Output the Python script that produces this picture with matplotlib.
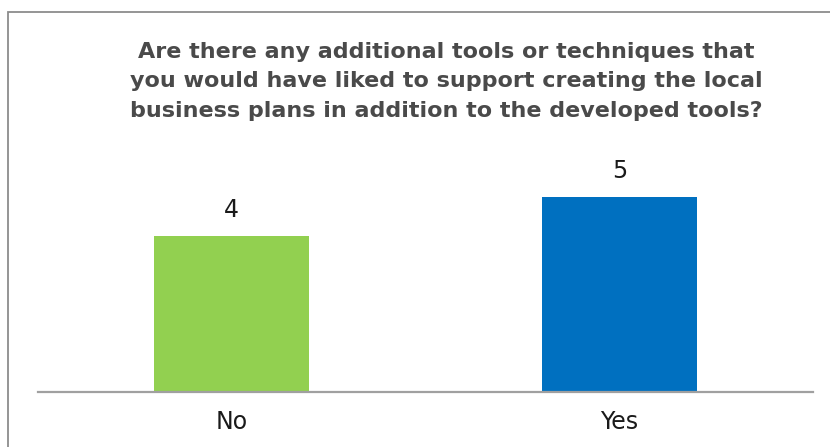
import matplotlib
matplotlib.use("Agg")
import matplotlib.pyplot as plt
from matplotlib.patches import Rectangle

categories = ["No", "Yes"]
values = [4, 5]
colors = ["#92D050", "#0070C0"]
title = ("Are there any additional tools or techniques that\n"
         "you would have liked to support creating the local\n"
         "business plans in addition to the developed tools?")

W, H = 830, 447
fig = plt.figure(figsize=(W / 100, H / 100), dpi=100)

# chart border (right and bottom edges cut off in the reference)
fig.patches.append(Rectangle((7.5 / W, -0.1), 1.2, 1 - 12.5 / H + 0.1,
                             transform=fig.transFigure, fill=False,
                             edgecolor="#8c8c8c", linewidth=1.3))

axis_y = 392
top_px = 150
ax = fig.add_axes([38 / W, (H - axis_y) / H, (813 - 38) / W, (axis_y - top_px) / H])
x = range(len(categories))
bars = ax.bar(x, values, width=0.40, color=colors)
ax.set_xlim(-0.5, 1.5)
ax.set_ylim(0, (axis_y - top_px) / 39.1)
for b, v in zip(bars, values):
    ax.annotate(str(v), (b.get_x() + b.get_width() / 2, v), xytext=(0, 10),
                textcoords="offset points", ha="center", va="bottom",
                fontsize=17, color="#1a1a1a")
ax.set_xticks(list(x))
ax.set_xticklabels(categories, fontsize=17, color="#1a1a1a")
ax.tick_params(axis="x", length=0, pad=13)
ax.set_yticks([])
for s in ["left", "right", "top"]:
    ax.spines[s].set_visible(False)
ax.spines["bottom"].set_color("#a0a0a0")
ax.spines["bottom"].set_linewidth(1.6)

fig.text(446 / W, 1 - 42 / H, title, ha="center", va="top",
         fontsize=16, fontweight="bold", color="#4a4a4a", linespacing=1.59)

fig.savefig("out.png", dpi=100)
